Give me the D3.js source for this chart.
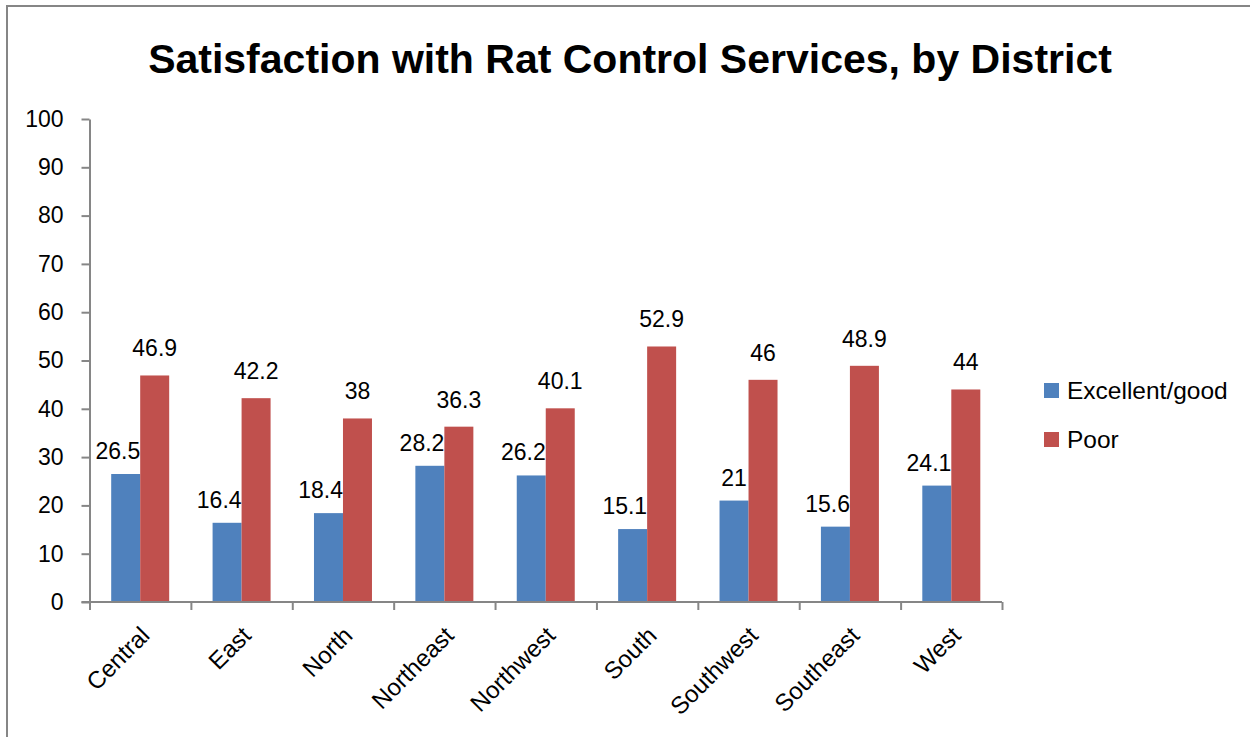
<!DOCTYPE html>
<html>
<head>
<meta charset="utf-8">
<script src="https://cdn.jsdelivr.net/npm/d3@7"></script>
<style>
  html, body { margin: 0; padding: 0; background: #fff; }
  svg { display: block; }
  text { font-family: "Liberation Sans", Arial, sans-serif; fill: #000; }
</style>
</head>
<body>
<svg id="chart" width="1250" height="737"></svg>
<script>
// District survey results (percent of respondents)
const districts = ["Central", "East", "North", "Northeast", "Northwest", "South", "Southwest", "Southeast", "West"];
const seriesNames = ["Excellent/good", "Poor"];
const excellentGood = [26.5, 16.4, 18.4, 28.2, 26.2, 15.1, 21, 15.6, 24.1];
const poor = [46.9, 42.2, 38, 36.3, 40.1, 52.9, 46, 48.9, 44];
const yTicks = [0, 10, 20, 30, 40, 50, 60, 70, 80, 90, 100];
const seriesColors = ["#4F81BD", "#C0504D"];
const titleText = "Satisfaction with Rat Control Services, by District";

const svg = d3.select("#chart");
const axisColor = "#868686";

// outer chart frame
svg.append("rect")
  .attr("x", 7).attr("y", 6)
  .attr("width", 1260).attr("height", 760)
  .attr("fill", "none")
  .attr("stroke", axisColor)
  .attr("stroke-width", 2);

// title
svg.append("text")
  .attr("x", 630).attr("y", 73)
  .attr("text-anchor", "middle")
  .style("font-size", "41px")
  .style("font-weight", "bold")
  .text(titleText);

const plotLeft = 89.5, plotRight = 1002, plotTop = 119, plotBottom = 602;

const x = d3.scaleBand()
  .domain(districts)
  .range([plotLeft, plotRight])
  .paddingInner(0.428)
  .paddingOuter(0.214);

const xSeries = d3.scaleBand()
  .domain(seriesNames)
  .range([0, x.bandwidth()]);

const y = d3.scaleLinear()
  .domain([0, 100])
  .range([plotBottom, plotTop]);

const rows = districts.map((d, i) => ({
  district: d,
  values: [
    { series: seriesNames[0], value: excellentGood[i] },
    { series: seriesNames[1], value: poor[i] }
  ]
}));

// bars
const groups = svg.append("g").selectAll("g")
  .data(rows)
  .join("g")
  .attr("transform", d => `translate(${x(d.district)},0)`);

groups.selectAll("rect")
  .data(d => d.values)
  .join("rect")
  .attr("x", d => xSeries(d.series))
  .attr("y", d => y(d.value))
  .attr("width", xSeries.bandwidth())
  .attr("height", d => y(0) - y(d.value))
  .attr("fill", (d, i) => seriesColors[i]);

// value labels
groups.selectAll("text.value")
  .data(d => d.values)
  .join("text")
  .attr("class", "value")
  .style("font-size", "23px")
  .text(d => d.value)
  .each(function(d, i) {
    const t = d3.select(this);
    const w = this.getComputedTextLength();
    const bx = xSeries(d.series), bw = xSeries.bandwidth();
    let cx = bx + bw / 2;
    // keep the left series label from spilling over the neighbouring bar
    if (i === 0 && cx + w / 2 > bx + bw) cx = bx + bw - w / 2;
    t.attr("x", cx)
     .attr("text-anchor", "middle")
     .attr("y", y(d.value) - (i === 0 ? 15 : 19));
  });

// y axis
const yAxis = svg.append("g")
  .attr("transform", `translate(${plotLeft},0)`)
  .call(d3.axisLeft(y).tickValues(yTicks).tickSize(8).tickSizeOuter(0).tickPadding(18));
yAxis.select(".domain").attr("stroke", axisColor).attr("stroke-width", 2);
yAxis.selectAll(".tick line").attr("stroke", axisColor).attr("stroke-width", 2);
yAxis.selectAll(".tick text")
  .style("font-size", "23px")
  .style("font-family", "'Liberation Sans', Arial, sans-serif")
  .attr("fill", "#000");

// x axis: boundary ticks between categories
const xEdges = d3.scaleLinear().domain([0, districts.length]).range([plotLeft, plotRight]);
const xAxis = svg.append("g")
  .attr("transform", `translate(0,${plotBottom})`)
  .call(d3.axisBottom(xEdges).ticks(districts.length).tickSize(8).tickSizeOuter(0).tickFormat(""));
xAxis.select(".domain").attr("stroke", axisColor).attr("stroke-width", 2)
  .attr("d", `M${plotLeft - 8},0H${plotRight}`);
xAxis.selectAll(".tick line").attr("stroke", axisColor).attr("stroke-width", 2);

// category labels, rotated
svg.append("g").selectAll("text")
  .data(districts)
  .join("text")
  .style("font-size", "24px")
  .attr("text-anchor", "end")
  .attr("transform", d => `translate(${x(d) + x.bandwidth() / 2 + 5},${plotBottom + 29}) rotate(-45)`)
  .attr("dy", "0.35em")
  .text(d => d);

// legend
const legend = svg.append("g").selectAll("g")
  .data(seriesNames)
  .join("g")
  .attr("transform", (d, i) => `translate(1044,${383 + i * 49})`);
legend.append("rect")
  .attr("width", 15).attr("height", 15)
  .attr("fill", (d, i) => seriesColors[i]);
legend.append("text")
  .attr("x", 23).attr("y", 16)
  .style("font-size", "24.5px")
  .text(d => d);
</script>
</body>
</html>
